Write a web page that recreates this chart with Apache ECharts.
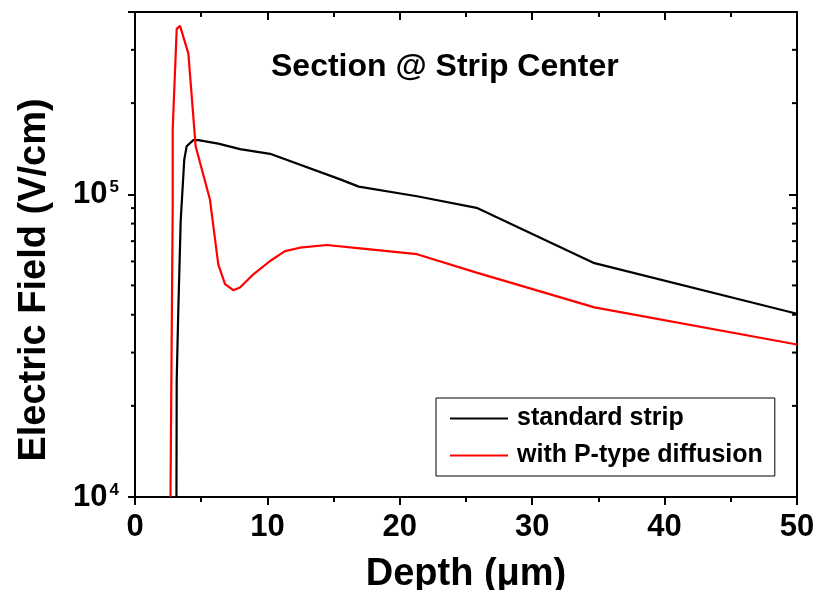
<!DOCTYPE html>
<html>
<head>
<meta charset="utf-8">
<script src="https://cdn.jsdelivr.net/npm/echarts@6/dist/echarts.min.js"></script>
<style>
html,body{margin:0;padding:0;background:#fff;}
#chart{width:817px;height:590px;}
</style>
</head>
<body>
<div id="chart"></div>
<script>
// ---- data ----
const standardX = [3.13, 3.15, 3.27, 3.45, 3.72, 3.90, 4.40, 4.78, 6.29, 7.93, 10.2, 15.5, 16.9, 21.3, 25.8, 34.7, 50];
const standardY = [1.0e4, 2.43e4, 4.12e4, 8.15e4, 1.30e5, 1.44e5, 1.51e5, 1.51e5, 1.47e5, 1.41e5, 1.36e5, 1.12e5, 1.06e5, 9.85e4, 9.02e4, 5.92e4, 4.03e4];
const pTypeX = [2.68, 2.85, 2.85, 3.15, 3.40, 4.03, 4.58, 5.66, 6.29, 6.80, 7.42, 7.93, 8.94, 10.2, 11.33, 12.46, 14.48, 17.0, 21.3, 25.8, 34.7, 50];
const pTypeY = [1.0e4, 9.48e4, 1.65e5, 3.52e5, 3.60e5, 2.92e5, 1.44e5, 9.61e4, 5.87e4, 5.05e4, 4.82e4, 4.92e4, 5.44e4, 6.02e4, 6.49e4, 6.66e4, 6.80e4, 6.63e4, 6.34e4, 5.51e4, 4.23e4, 3.19e4];
const seriesNames = ['standard strip', 'with P-type diffusion'];
const yMinorTicks = [2e4, 3e4, 4e4, 5e4, 6e4, 7e4, 8e4, 9e4, 2e5, 3e5];
const xMin = 0, xMax = 50, xInterval = 10;
const yMin = 1e4, yMax = 4e5;
const titleText = 'Section @ Strip Center';
const xName = 'Depth (\u03bcm)';
const yName = 'Electric Field (V/cm)';

const FONT = 'Liberation Sans, Arial, Helvetica, sans-serif';
const chart = echarts.init(document.getElementById('chart'), null, {renderer: 'canvas'});

function pairs(xs, ys) { return xs.map((x, i) => [x, ys[i]]); }
function logLabel(v) {
  const e = Math.round(Math.log10(v));
  if (Math.abs(Math.pow(10, e) - v) > 1e-6 * v) return '';
  return '{b|10}{s|' + e + '}';
}

const axisLineStyle = {color: '#000', width: 2};

const option = {
  animation: false,
  backgroundColor: '#fff',
  title: {
    text: titleText,
    left: 271, top: 51, padding: 0,
    textStyle: {fontFamily: FONT, fontWeight: 'bold', fontSize: 32, color: '#000'}
  },
  grid: {left: 135, right: 20, top: 12, bottom: 93, containLabel: false, outerBoundsMode: 'none'},
  legend: {
    orient: 'vertical',
    left: 436, top: 398,
    padding: [8, 12, 8, 14],
    itemGap: 12,
    itemWidth: 58, itemHeight: 2,
    icon: 'rect',
    borderColor: '#000', borderWidth: 1, borderRadius: 0,
    backgroundColor: '#fff',
    textStyle: {fontFamily: FONT, fontWeight: 'bold', fontSize: 25, color: '#000', padding: [0, 0, 0, 4]},
    data: seriesNames
  },
  xAxis: [{
    type: 'value', position: 'bottom', min: xMin, max: xMax, interval: xInterval,
    name: xName, nameLocation: 'middle', nameGap: 59,
    nameTextStyle: {fontFamily: FONT, fontWeight: 'bold', fontSize: 38, color: '#000'},
    axisLine: {show: true, onZero: false, lineStyle: axisLineStyle},
    axisTick: {show: true, inside: false, length: 8, lineStyle: {color: '#000', width: 2}},
    minorTick: {show: true, splitNumber: 2, length: 5, lineStyle: {color: '#000', width: 2}},
    axisLabel: {fontFamily: FONT, fontWeight: 'bold', fontSize: 31, color: '#000', margin: 15},
    splitLine: {show: false}
  }, {
    type: 'value', position: 'top', min: xMin, max: xMax, interval: xInterval,
    axisLine: {show: true, onZero: false, lineStyle: axisLineStyle},
    axisTick: {show: true, inside: true, length: 8, lineStyle: {color: '#000', width: 2}},
    minorTick: {show: true, splitNumber: 2, length: 5, lineStyle: {color: '#000', width: 2}},
    axisLabel: {show: false},
    splitLine: {show: false}
  }],
  yAxis: [{
    type: 'log', logBase: 10, position: 'left', min: yMin, max: yMax,
    axisLine: {show: true, onZero: false, lineStyle: axisLineStyle},
    axisTick: {show: true, inside: false, length: 7, lineStyle: {color: '#000', width: 2}},
    axisLabel: {
      margin: 16, formatter: logLabel, color: '#000',
      rich: {
        b: {fontFamily: FONT, fontWeight: 'bold', fontSize: 31, color: '#000'},
        s: {fontFamily: FONT, fontWeight: 'bold', fontSize: 17, color: '#000', verticalAlign: 'top', padding: [0, 0, 0, 2]}
      }
    },
    splitLine: {show: false}
  }, {
    type: 'log', logBase: 10, position: 'right', min: yMin, max: yMax,
    axisLine: {show: true, onZero: false, lineStyle: axisLineStyle},
    axisTick: {show: true, inside: true, length: 8, lineStyle: {color: '#000', width: 2}},
    axisLabel: {show: false},
    splitLine: {show: false}
  }],
  graphic: [{
    type: 'text',
    x: 35, y: 280, rotation: Math.PI / 2,
    style: {text: yName, fontFamily: FONT, fontWeight: 'bold', fontSize: 38, fill: '#000', align: 'center', verticalAlign: 'middle'}
  }],
  series: [{
    name: seriesNames[0], type: 'line', data: pairs(standardX, standardY),
    showSymbol: false, symbol: 'none', smooth: false,
    lineStyle: {color: '#000', width: 2.2}, itemStyle: {color: '#000'}, z: 3
  }, {
    name: seriesNames[1], type: 'line', data: pairs(pTypeX, pTypeY),
    showSymbol: false, symbol: 'none', smooth: false,
    lineStyle: {color: '#ff0000', width: 2.2}, itemStyle: {color: '#ff0000'}, z: 4
  }, {
    type: 'custom', silent: true, clip: false, z: 10,
    data: yMinorTicks.map(v => [xMin, v]),
    encode: {x: 0, y: 1},
    renderItem: function (params, api) {
      const v = api.value(1);
      const pL = api.coord([xMin, v]);
      const pR = api.coord([xMax, v]);
      const st = {stroke: '#000', lineWidth: 2};
      return {type: 'group', children: [
        {type: 'line', shape: {x1: pL[0] - 4, y1: pL[1], x2: pL[0], y2: pL[1]}, style: st},
        {type: 'line', shape: {x1: pR[0] - 5, y1: pR[1], x2: pR[0], y2: pR[1]}, style: st}
      ]};
    }
  }]
};
chart.setOption(option);
</script>
</body>
</html>
